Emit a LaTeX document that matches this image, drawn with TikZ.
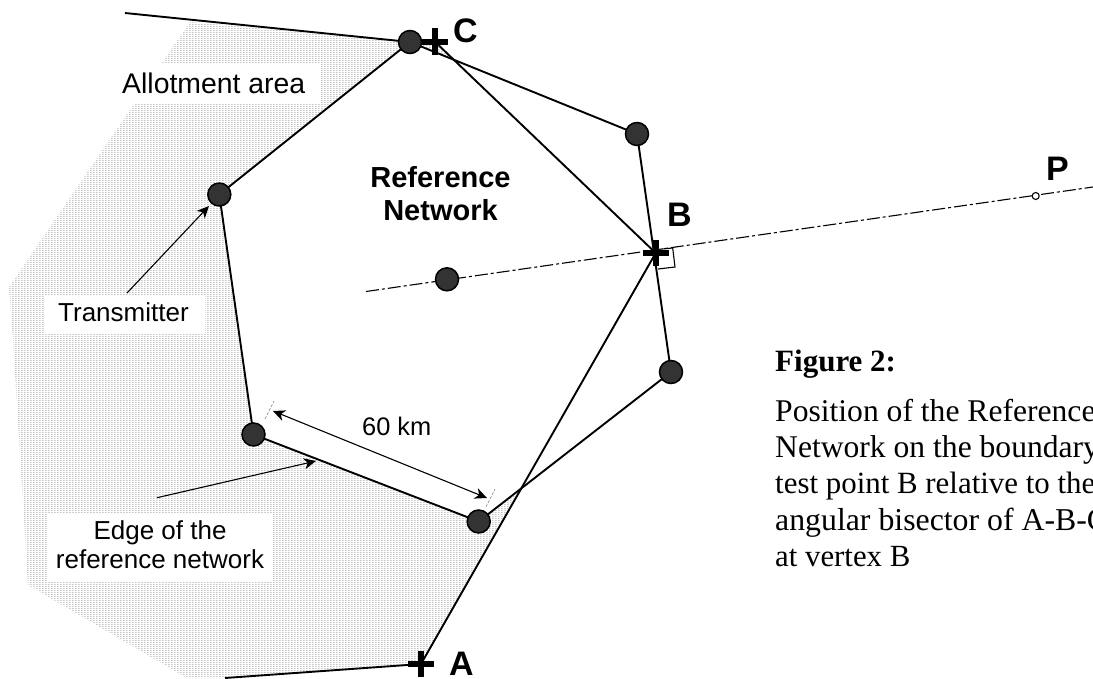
\documentclass[tikz,border=0pt]{standalone}
\usepackage{fontspec}
\setmainfont{Liberation Serif}
\newfontfamily\arialf{Liberation Sans}
\usetikzlibrary{arrows.meta,shapes.misc,patterns}
\pgfdeclarelayer{shade}
\pgfdeclarelayer{lines}
\pgfsetlayers{shade,lines,main}
\pgfdeclarepatternformonly{shadecells}{\pgfpointorigin}{\pgfpoint{3pt}{2pt}}{\pgfpoint{3pt}{2pt}}{%
  \pgfpathrectangle{\pgfpoint{0pt}{0pt}}{\pgfpoint{2pt}{1pt}}\pgfusepath{fill}}
\definecolor{shadegray}{gray}{0.66}
\definecolor{txdark}{gray}{0.2}
\tikzset{
  x=1pt,y=-1pt,
  shadefill/.style={pattern=shadecells,pattern color=shadegray},
  tx/.style={circle,draw=black,line width=1.5pt,fill=txdark,minimum size=23pt,inner sep=0pt,outer sep=0pt},
  plusmark/.style={cross out,draw=black,line width=6pt,minimum size=18.4pt,rotate=45,inner sep=0pt,outer sep=0pt},
  edgeline/.style={draw=black,line width=1.9pt},
  axisline/.style={draw=black,line width=1.1pt,dash pattern=on 13pt off 3pt on 3pt off 3pt},
  pointer/.style={draw=black,line width=1.1pt,-{Stealth[length=12pt,width=11pt,inset=3.5pt]}},
  dimline/.style={draw=black,line width=1.1pt,{Stealth[length=12pt,width=11pt,inset=3.5pt]}-{Stealth[length=12pt,width=11pt,inset=3.5pt]}},
  ticksty/.style={draw=gray,line width=0.6pt,dash pattern=on 3pt off 1.5pt},
  lbl/.style={font=\arialf\fontsize{26}{30}\selectfont,inner sep=0pt,anchor=base west},
  blbl/.style={font=\arialf\bfseries\fontsize{29}{33}\selectfont,inner sep=0pt,anchor=base},
  vertexlbl/.style={font=\arialf\bfseries\fontsize{34}{40}\selectfont,inner sep=0pt,anchor=base west},
  captxt/.style={inner sep=0pt,anchor=base west},
}
\begin{document}
\begin{tikzpicture}
\useasboundingbox (0,0) rectangle (1093,678);
% transmitters
\node[tx] (t1) at (410,42) {};
\node[tx] (t2) at (219.3,194.5) {};
\node[tx] (t3) at (253.5,434.5) {};
\node[tx] (t4) at (478.7,521.5) {};
\node[tx] (t5) at (671,372) {};
\node[tx] (t6) at (637,134) {};
\node[tx] (t7) at (447,279.3) {};
% test points
\node[plusmark] (C) at (434.7,41.5) {};
\node[plusmark] (B) at (655.7,253) {};
\node[plusmark] (A) at (421,664) {};
\node[circle,draw=black,line width=1.1pt,fill=white,minimum size=7pt,inner sep=0pt] (P) at (1035.7,196) {};
% free ends
\coordinate (topend) at (125,13);
\coordinate (botend) at (225,678);
\coordinate (axisL) at (366,291.5);
\coordinate (axisR) at (1093,187);
\coordinate (trfrom) at (127,293);
\coordinate (trto) at (209,206);
\coordinate (edfrom) at (157,497.7);
\coordinate (edto) at (316,461);
\coordinate (dimL) at (273,411);
\coordinate (dimR) at (487,498);
\begin{pgfonlayer}{shade}
  \fill[shadefill] (190,22) -- (9,287) -- (13,340) -- (28,585) -- (187,678) -- (225,678)
     -- (421,664) -- (517,493) -- (478.7,521.5) -- (253.5,434.5) -- (219.3,194.5) -- (410,42) -- cycle;
  \fill[shadefill] (410,42) -- (434.7,41.5) -- (453.5,59.6) -- cycle;
  \fill[white] (114,64) rectangle (320,103);
  \fill[white] (44,295) rectangle (205,333);
  \fill[white] (48,513) rectangle (273,581);
\end{pgfonlayer}
\begin{pgfonlayer}{lines}
  \draw[edgeline] (topend) -- (t1);
  \draw[edgeline] (t1) -- (t2);
  \draw[edgeline] (t2) -- (t3);
  \draw[edgeline] (t3) -- (t4);
  \draw[edgeline] (t4) -- (t5);
  \draw[edgeline] (t5) -- (t6);
  \draw[edgeline] (t6) -- (t1);
  \draw[edgeline] (C.center) -- (B.center);
  \draw[edgeline] (A.center) -- (B.center);
  \draw[edgeline] (botend) -- (A.center);
  \draw[axisline] (axisL) -- (axisR);
  \draw[line width=1.1pt] (662,249) -- (672.7,248) -- (675,267) -- (658,269);
  \draw[ticksty] (265,419) -- (274,401);
  \draw[ticksty] (486,507) -- (495,489);
\end{pgfonlayer}
\draw[pointer] (trfrom) -- (trto);
\draw[pointer] (edfrom) -- (edto);
\draw[dimline] (dimL) -- (dimR);
% labels
\node[lbl,font=\arialf\fontsize{28.4}{30}\selectfont] (lallot) at (122,93) {Allotment area};
\node[lbl] (ltrans) at (58,321) {Transmitter};
\node[lbl,anchor=base] (ledge1) at (160,539) {Edge of the};
\node[lbl,anchor=base] (ledge2) at (160,568) {reference network};
\node[lbl,font=\arialf\fontsize{25.4}{30}\selectfont] (l60) at (362,435) {60 km};
\node[blbl] (lref1) at (440.5,187.5) {Reference};
\node[blbl] (lref2) at (440.5,220.7) {Network};
\node[vertexlbl] (lC) at (453,42) {C};
\node[vertexlbl] (lB) at (667,226) {B};
\node[vertexlbl] (lA) at (449,675) {A};
\node[vertexlbl] (lP) at (1046,180.7) {P};
\node[captxt,font=\bfseries\fontsize{31}{36}\selectfont] (fig) at (775,371) {Figure 2:};
\node[captxt,font=\fontsize{31.6}{36}\selectfont] (c1) at (775,421.7) {Position of the Reference};
\node[captxt,font=\fontsize{31.6}{36}\selectfont] (c2) at (775,457.7) {Network on the boundary};
\node[captxt,font=\fontsize{30.9}{36}\selectfont] (c3) at (775,493.5) {test point B relative to the};
\node[captxt,font=\fontsize{31.8}{36}\selectfont] (c4) at (775,530) {angular bisector of A-B-C};
\node[captxt,font=\fontsize{30.8}{36}\selectfont] (c5) at (775,566.7) {at vertex B};
\end{tikzpicture}
\end{document}
